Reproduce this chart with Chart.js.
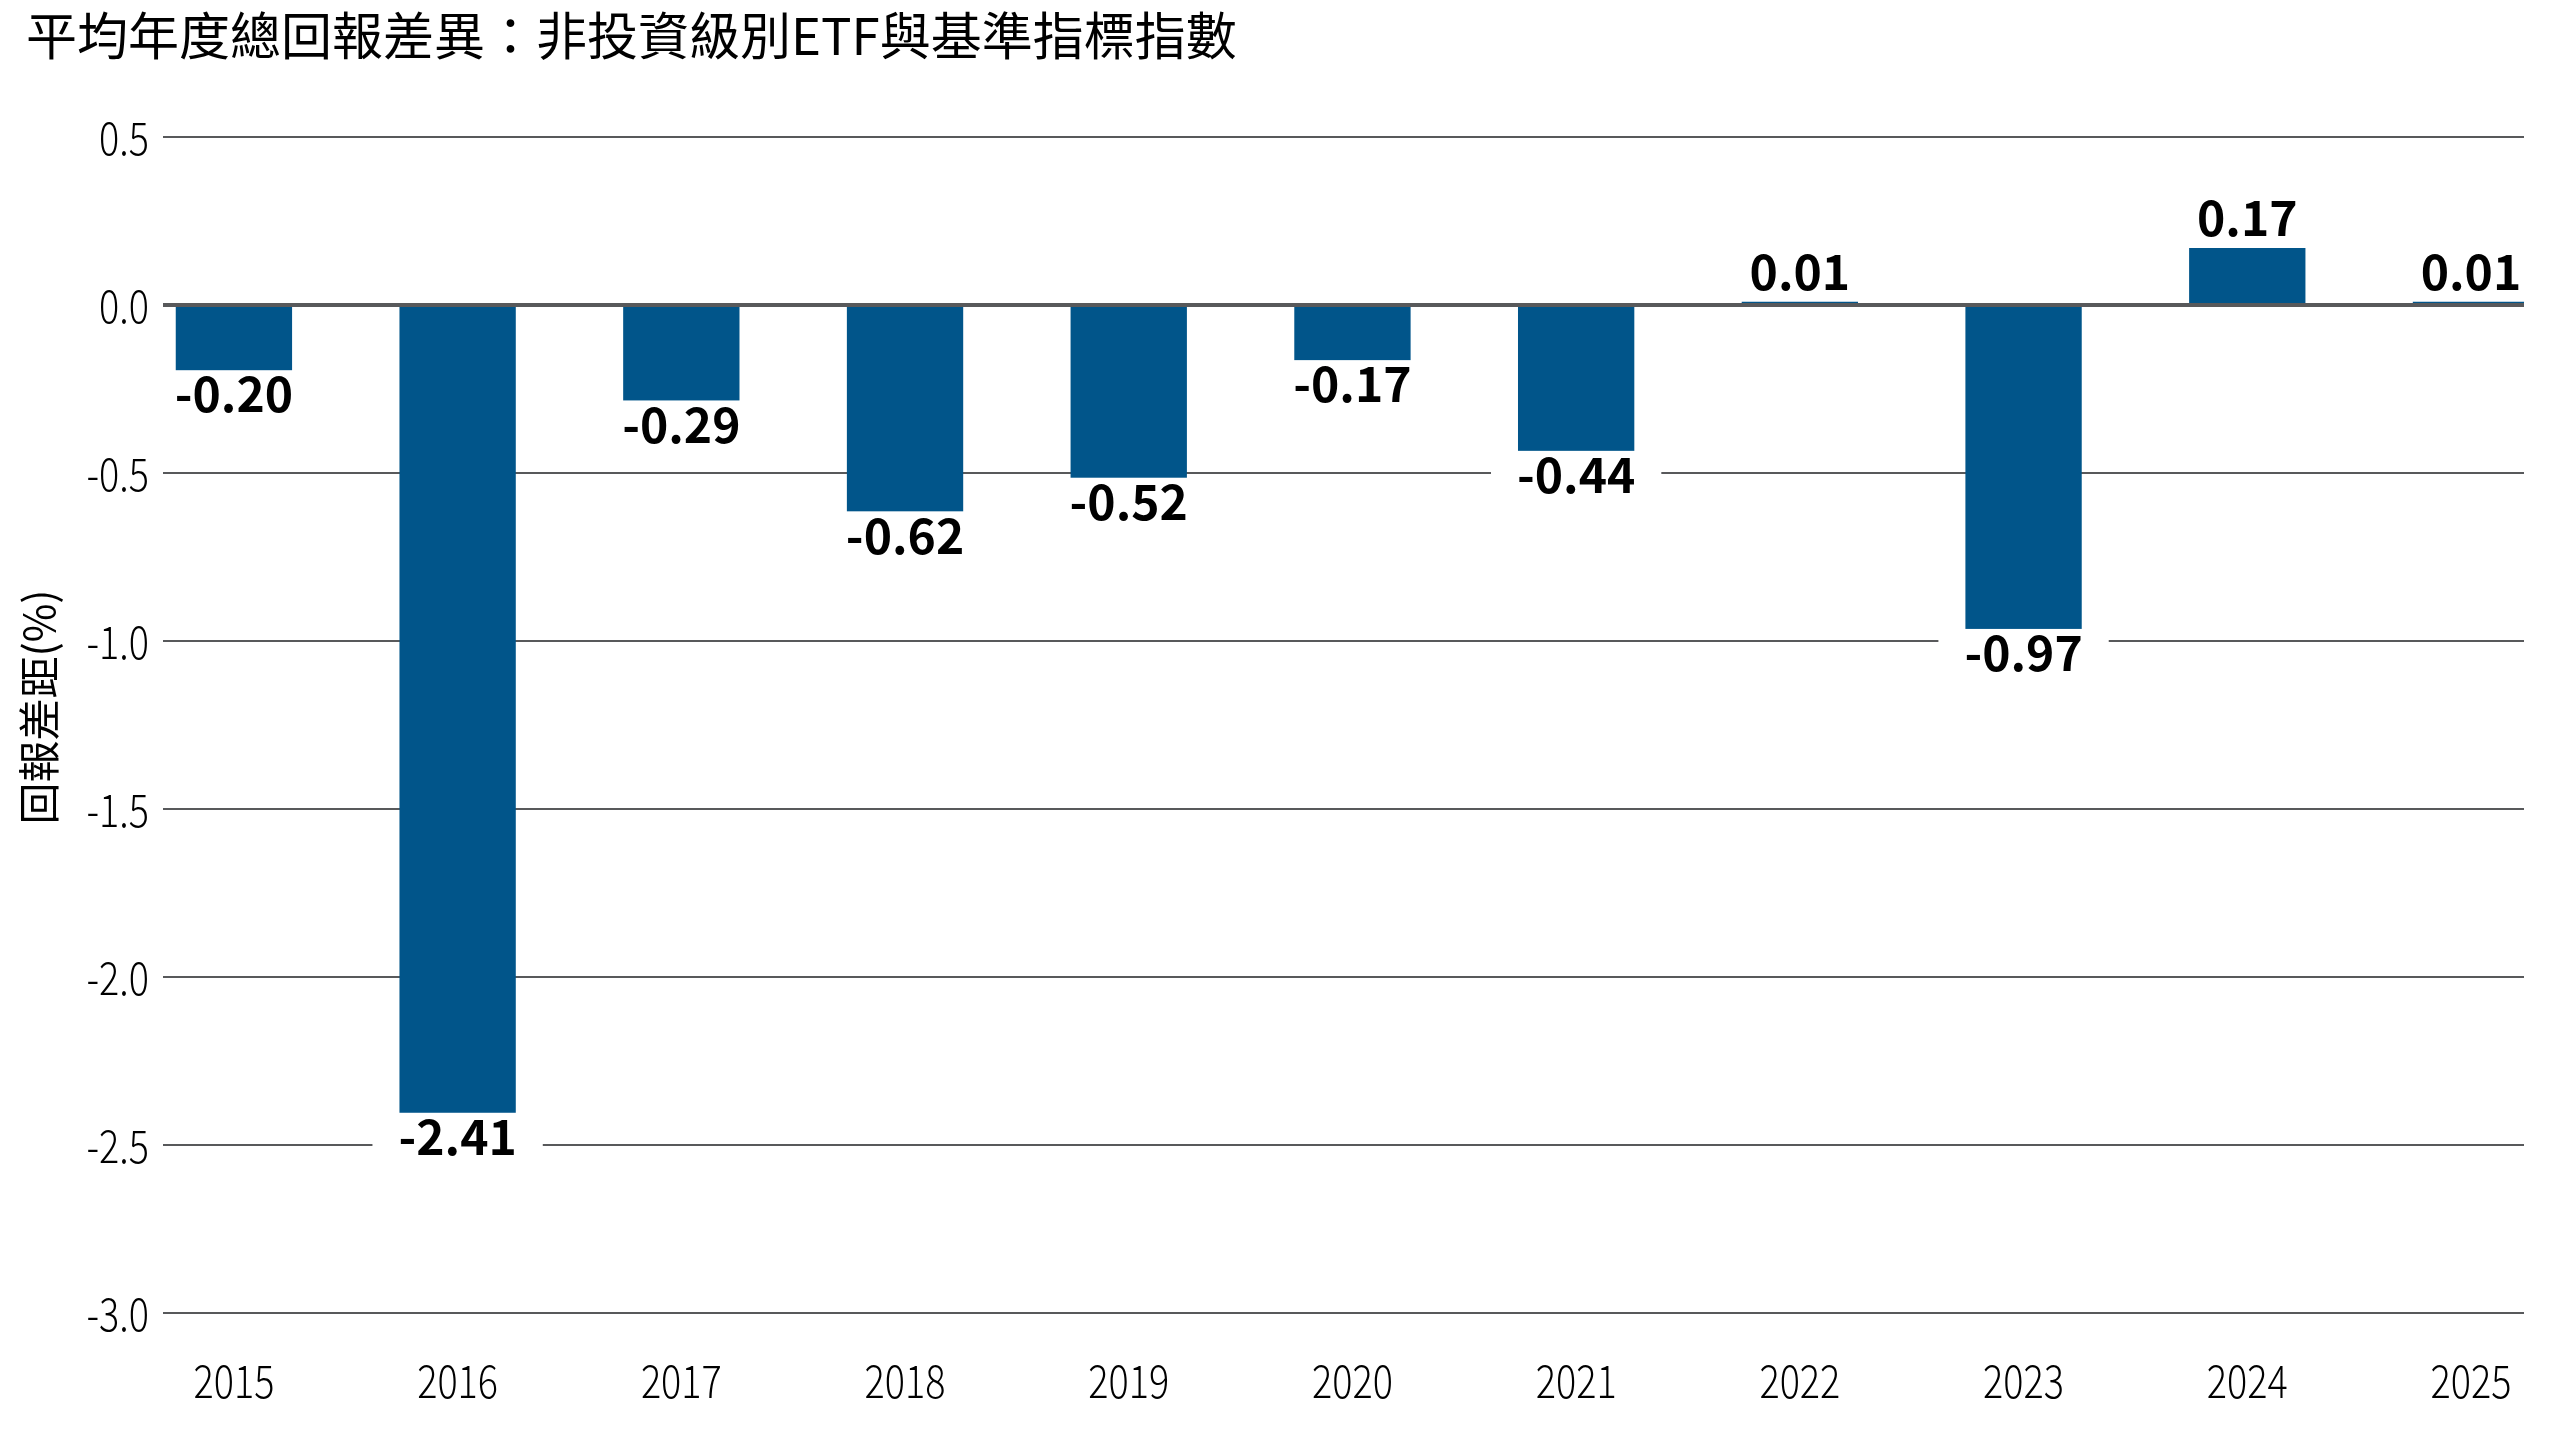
<!DOCTYPE html>
<html>
<head>
<meta charset="utf-8">
<script src="https://cdn.jsdelivr.net/npm/chart.js@4.4.1/dist/chart.umd.min.js"></script>
<style>
  html, body { margin: 0; padding: 0; background: #FFFFFF; }
  #wrap { position: relative; width: 2560px; height: 1440px; }
  #title {
    position: absolute; left: 26px; top: 8px;
    font-family: "Noto Sans CJK TC", "Noto Sans CJK SC", sans-serif;
    font-size: 51px; line-height: 1; color: #000; white-space: nowrap;
  }
</style>
</head>
<body>
<div id="wrap">
  <div id="title">平均年度總回報差異：非投資級別ETF與基準指標指數</div>
  <canvas id="chart" width="2560" height="1440"></canvas>
</div>
<script>
const years = ["2015", "2016", "2017", "2018", "2019", "2020", "2021", "2022", "2023", "2024", "2025"];
const gaps = [-0.20, -2.41, -0.29, -0.62, -0.52, -0.17, -0.44, 0.01, -0.97, 0.17, 0.01];
const yTicks = [0.5, 0.0, -0.5, -1.0, -1.5, -2.0, -2.5, -3.0];
const yTitle = "回報差距(%)";

const barColor = "#01558A";
const gridColor = "#58595B";
const cjk = "'Noto Sans CJK TC', 'Noto Sans CJK SC', sans-serif";
const tickFont = "300 45px " + cjk;
const squeeze = 0.84; // the tick font in the original is a condensed face

// draw text squeezed horizontally around (x, y)
function narrowText(ctx, text, x, y, align) {
    ctx.save();
    ctx.translate(x, y);
    ctx.scale(squeeze, 1);
    ctx.textAlign = align;
    ctx.fillText(text, 0, 0);
    ctx.restore();
}

const labelsPlugin = {
    id: "labelsPlugin",
    afterDatasetsDraw(chart) {
        // value labels under / over each bar, on a white box that cuts the grid lines
        const ctx = chart.ctx;
        const meta = chart.getDatasetMeta(0);
        ctx.save();
        ctx.font = "bold 48px " + cjk;
        ctx.textAlign = "center";
        ctx.textBaseline = "middle";
        meta.data.forEach((bar, i) => {
            const v = gaps[i];
            const text = v.toFixed(2);
            const y = v < 0 ? bar.y + 22 : bar.y - 30;
            const w = ctx.measureText(text).width;
            ctx.fillStyle = "#FFFFFF";
            ctx.fillRect(bar.x - w / 2 - 26, y - 24, w + 52, 48);
            ctx.fillStyle = "#000000";
            ctx.fillText(text, bar.x, y);
        });
        ctx.restore();
    },
    afterDraw(chart) {
        const ctx = chart.ctx;
        const xs = chart.scales.x;
        const ys = chart.scales.y;
        ctx.save();
        ctx.fillStyle = "#000";
        ctx.font = tickFont;
        ctx.textBaseline = "middle";
        yTicks.forEach(v => narrowText(ctx, v.toFixed(1), chart.chartArea.left - 14, ys.getPixelForValue(v) + 1, "right"));
        years.forEach((y, i) => narrowText(ctx, y, xs.getPixelForValue(i), chart.chartArea.bottom + 68, "center"));

        // y axis title, rotated
        ctx.translate(39, 707);
        ctx.rotate(-Math.PI / 2);
        ctx.font = "42px " + cjk;
        ctx.textAlign = "center";
        ctx.fillText(yTitle, 0, 0);
        ctx.restore();
    }
};

const ctx = document.getElementById("chart").getContext("2d");
new Chart(ctx, {
    type: "bar",
    data: {
        datasets: [{
            data: years.map((y, i) => ({x: i, y: gaps[i]})),
            backgroundColor: barColor,
            borderWidth: 0,
            categoryPercentage: 1,
            barPercentage: 0.52
        }]
    },
    options: {
        responsive: false,
        animation: false,
        devicePixelRatio: 1,
        layout: { padding: { top: 137, right: 36, bottom: 0, left: 0 } },
        plugins: {
            legend: { display: false },
            tooltip: { enabled: false }
        },
        scales: {
            x: {
                type: "linear",
                offset: false,
                min: -0.317,
                max: 10.237,
                grid: { display: false, drawTicks: false },
                border: { display: false },
                ticks: { display: false },
                afterBuildTicks(scale) { scale.ticks = years.map((y, i) => ({value: i})); },
                afterFit(scale) { scale.height = 127; }
            },
            y: {
                min: -3,
                max: 0.5,
                afterFit(scale) { scale.width = 163; },
                afterBuildTicks(scale) { scale.ticks = yTicks.map(v => ({value: v})); },
                grid: {
                    drawTicks: false,
                    color: gridColor,
                    lineWidth: (c) => c.tick && c.tick.value === 0 ? 4 : 2
                },
                border: { display: false },
                ticks: { display: false }
            }
        }
    },
    plugins: [labelsPlugin]
});
</script>
</body>
</html>
